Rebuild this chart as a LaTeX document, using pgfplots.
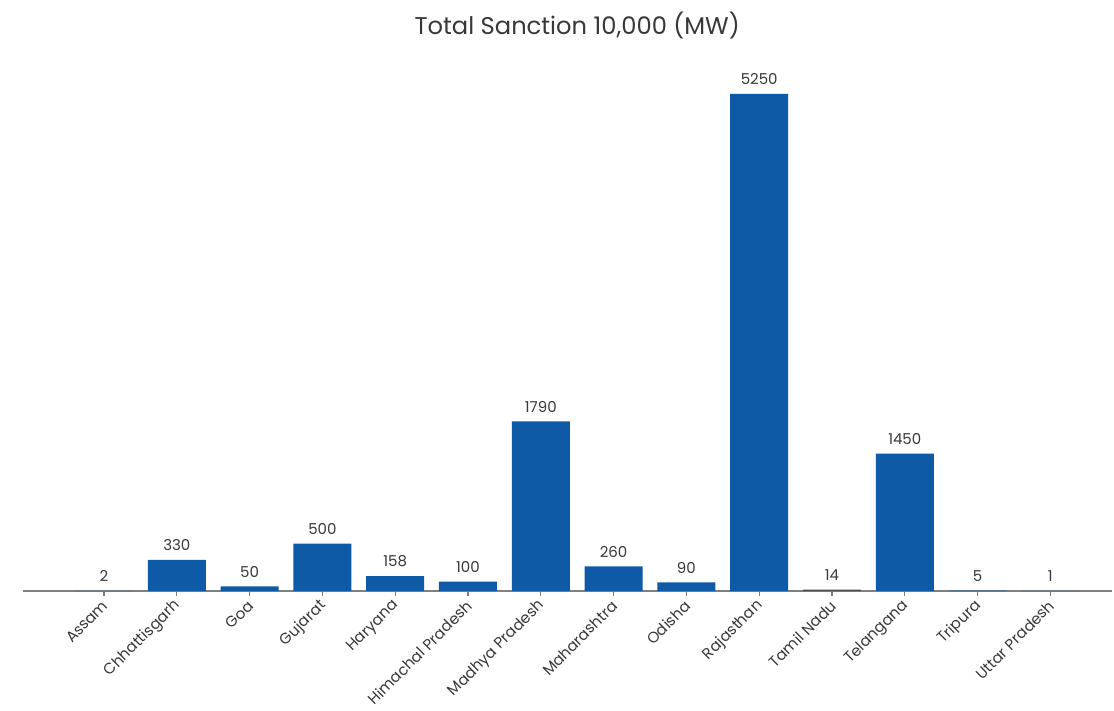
\documentclass[border=0pt]{standalone}
\usepackage{pgfplots}
\pgfplotsset{compat=1.18}
\usepackage{fontspec}
\setmainfont{Poppins}
\definecolor{barblue}{HTML}{0F5AA6}
\definecolor{txt}{HTML}{383838}
\definecolor{axgray}{HTML}{808080}
\begin{document}
\begin{tikzpicture}
\begin{axis}[
  x=36.4pt, y=0.04735pt,
  xmin=-1.11, xmax=13.85, ymin=0, ymax=5600,
  axis x line=bottom, hide y axis,
  axis line style={axgray, line width=0.8pt, -},
  x axis line style={-},
  xtick={0,...,13},
  xticklabels={Assam,Chhattisgarh,Goa,Gujarat,Haryana,Himachal Pradesh,Madhya Pradesh,Maharashtra,Odisha,Rajasthan,Tamil Nadu,Telangana,Tripura,Uttar Pradesh},
  x tick label style={rotate=45, anchor=east, font=\fontsize{7.6}{9}\selectfont, text=txt, inner sep=1pt, yshift=-3pt, xshift=-1pt},
  major tick length=2.5pt,
  tick align=outside,
  tick style={axgray, line width=0.6pt},
  ytick=\empty,
  clip=false,
]
\addplot[ybar, bar width=29pt, bar shift=0pt, fill=barblue, draw=none,
  nodes near coords, point meta=explicit symbolic,
  every node near coord/.append style={font=\fontsize{7.5}{8}\selectfont, text=txt, yshift=1pt}]
  table[meta=l] {
x y l
0 2 2
1 330 330
2 50 50
3 500 500
4 158 158
5 100 100
6 1790 1790
7 260 260
8 90 90
9 5250 5250
10 14 14
11 1450 1450
12 5 5
13 1 1
};
\addplot[ybar, bar width=29pt, bar shift=0pt, fill=black!70, draw=none] coordinates {(10,14)};
\node[font=\fontsize{12.1}{14}\selectfont, text=txt] at (axis cs:6.5,5977) {Total Sanction 10,000 (MW)};
\coordinate (bl) at (axis cs:-1.4286,-1257);
\coordinate (tr) at (axis cs:13.874,6241);
\end{axis}
\pgfresetboundingbox
\path[use as bounding box] (bl) rectangle (tr);
\end{tikzpicture}
\end{document}
